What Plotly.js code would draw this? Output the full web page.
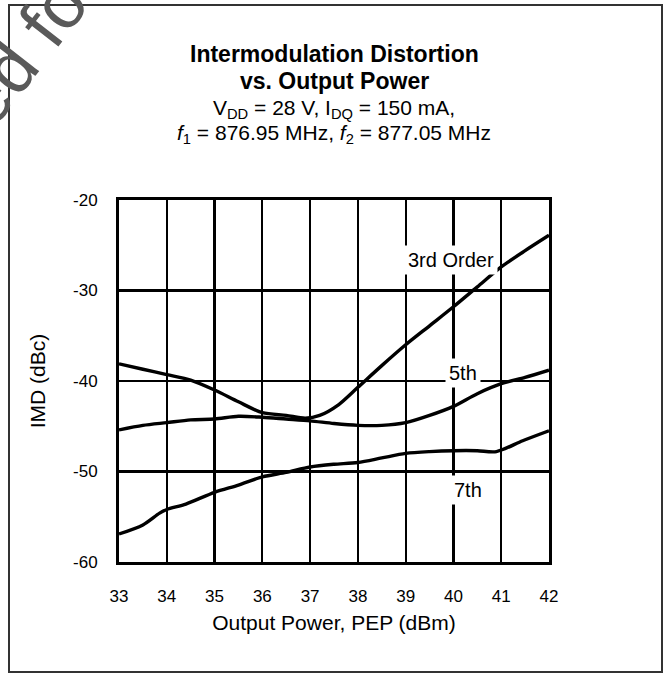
<!DOCTYPE html>
<html>
<head>
<meta charset="utf-8">
<script src="https://cdn.plot.ly/plotly-3.0.1.min.js"></script>
<style>
  html, body { margin: 0; padding: 0; background: #fff; }
  #chart { width: 666px; height: 675px; }
</style>
</head>
<body>
<div id="chart"></div>
<script>
// Output power, PEP (dBm)
const pout3 = [33, 33.5, 34, 34.5, 35, 35.5, 36, 36.5, 36.9, 37.2, 37.6, 38, 38.5, 39, 39.5, 40, 40.5, 41, 41.5, 42];
const imd3  = [-38.1, -38.7, -39.3, -39.9, -41.0, -42.3, -43.5, -43.8, -44.1, -43.8, -42.6, -40.7, -38.3, -36.0, -33.9, -31.8, -29.6, -27.4, -25.6, -23.9];

const pout5 = [33, 33.5, 34, 34.5, 35, 35.5, 36, 36.5, 37, 37.5, 38, 38.5, 39, 39.5, 40, 40.5, 41, 41.5, 42];
const imd5  = [-45.4, -44.9, -44.6, -44.3, -44.2, -43.9, -44.0, -44.2, -44.4, -44.7, -44.9, -44.9, -44.6, -43.8, -42.8, -41.4, -40.3, -39.6, -38.8];

const pout7 = [33, 33.5, 33.85, 34, 34.4, 35, 35.5, 36, 36.5, 37, 37.5, 38, 38.5, 39, 39.5, 40, 40.5, 40.9, 41.45, 42];
const imd7  = [-56.9, -55.9, -54.6, -54.2, -53.6, -52.3, -51.5, -50.6, -50.1, -49.5, -49.2, -49.0, -48.5, -48.0, -47.8, -47.7, -47.7, -47.8, -46.6, -45.5];

const xTicks = [33, 34, 35, 36, 37, 38, 39, 40, 41, 42];
const yTicks = [-60, -50, -40, -30, -20];

const curveLabels = ["3rd Order", "5th", "7th"];
const labelX = [39.95, 40.2, 40.3];
const labelY = [-26.6, -39.15, -52.0];

const FONT = "Liberation Sans, Arial, sans-serif";
const lineStyle = {color: "#000", width: 3.4, shape: "spline", smoothing: 0.8};

const traces = [
  {x: pout3, y: imd3, mode: "lines", line: lineStyle, hoverinfo: "skip"},
  {x: pout5, y: imd5, mode: "lines", line: lineStyle, hoverinfo: "skip"},
  {x: pout7, y: imd7, mode: "lines", line: lineStyle, hoverinfo: "skip"}
];

const annotations = curveLabels.map((t, i) => ({
  x: labelX[i], y: labelY[i], xref: "x", yref: "y", text: t, showarrow: false,
  font: {family: FONT, size: 20, color: "#000"}, bgcolor: "#fff", borderpad: 3
}));

// title block lines (paper coordinates above plot)
const titleLines = [
  {text: "<b>Intermodulation Distortion</b>", y: 1.403, size: 23},
  {text: "<b>vs. Output Power</b>", y: 1.330, size: 23},
  {text: "V<sub>DD</sub> = 28 V, I<sub>DQ</sub> = 150 mA,", y: 1.251, size: 21},
  {text: "<i>f</i><sub>1</sub> = 876.95 MHz, <i>f</i><sub>2</sub> = 877.05 MHz", y: 1.182, size: 21}
];
titleLines.forEach(l => annotations.push({
  xref: "paper", yref: "paper", x: 0.5, y: l.y, text: l.text, showarrow: false,
  xanchor: "center", yanchor: "middle", font: {family: FONT, size: l.size, color: "#000"}
}));

// partial watermark in top-left corner
annotations.push({
  xref: "paper", yref: "paper", x: -0.225, y: 1.41, text: "ed fo", showarrow: false,
  textangle: -52, font: {family: FONT, size: 72, color: "#5a5a5a"},
  xanchor: "center", yanchor: "middle"
});

const layout = {
  width: 666, height: 675,
  margin: {l: 119, r: 117, t: 200, b: 113, pad: 0},
  paper_bgcolor: "#fff", plot_bgcolor: "#fff",
  showlegend: false,
  font: {family: FONT, size: 17, color: "#000"},
  xaxis: {
    range: [33, 42], tickvals: xTicks, ticktext: xTicks.map(String),
    showgrid: true, gridcolor: "#000", gridwidth: 2.2, zeroline: false,
    showline: true, linecolor: "#000", linewidth: 3, mirror: true,
    ticks: "outside", ticklen: 17, tickcolor: "rgba(0,0,0,0)",
    tickfont: {family: FONT, size: 17, color: "#000"},
    title: {text: "Output Power, PEP (dBm)", font: {family: FONT, size: 21, color: "#000"}, standoff: 10}
  },
  yaxis: {
    range: [-60, -20], tickvals: yTicks, ticktext: yTicks.map(String),
    showgrid: true, gridcolor: "#000", gridwidth: 2.2, zeroline: false,
    showline: true, linecolor: "#000", linewidth: 3, mirror: true,
    ticks: "outside", ticklen: 15, tickcolor: "rgba(0,0,0,0)",
    tickfont: {family: FONT, size: 17, color: "#000"},
    title: {text: "IMD (dBc)", font: {family: FONT, size: 21, color: "#000"}, standoff: 22}
  },
  annotations: annotations,
  shapes: [{
    type: "rect", xref: "paper", yref: "paper",
    x0: (9 - 119) / 430, x1: (662 - 119) / 430,
    y0: (562 - 672) / 362, y1: (562 - 5) / 362,
    line: {color: "#333", width: 2}, fillcolor: "rgba(0,0,0,0)", layer: "below"
  }]
};

Plotly.newPlot("chart", traces, layout, {displayModeBar: false, staticPlot: true});
</script>
</body>
</html>
